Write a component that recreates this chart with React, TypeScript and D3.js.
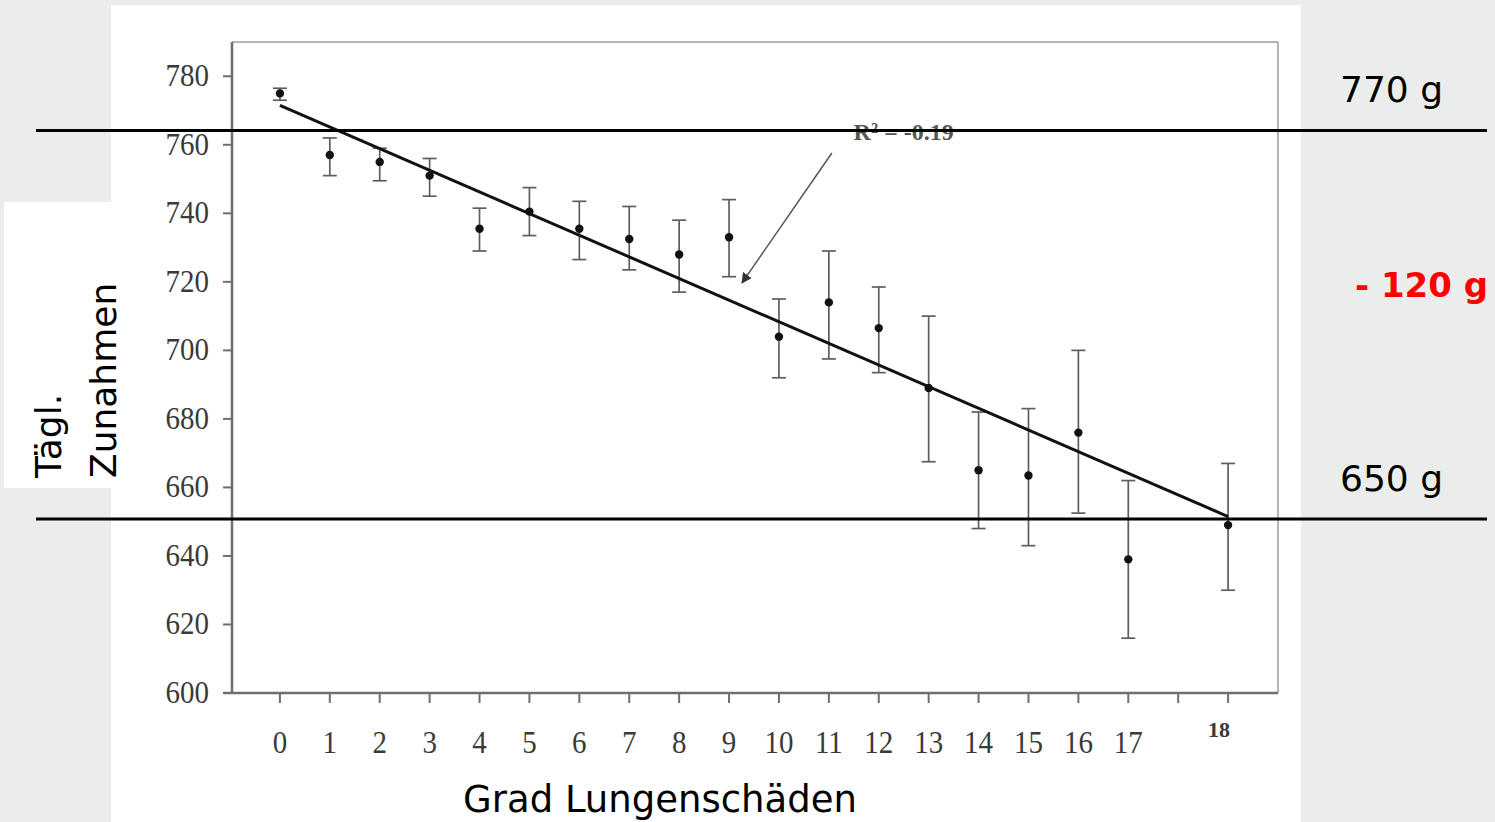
import React from 'react';
import * as d3 from 'd3';

// Grad Lungenschäden vs. tägliche Zunahmen (g)
const categories = ['0', '1', '2', '3', '4', '5', '6', '7', '8', '9', '10', '11', '12', '13', '14', '15', '16', '17', '18'];
// the "18" group sits one tick further right in the original chart
const xPositions = [0, 1, 2, 3, 4, 5, 6, 7, 8, 9, 10, 11, 12, 13, 14, 15, 16, 17, 19];
const means = [775, 757, 755, 751, 735.5, 740.5, 735.5, 732.5, 728, 733, 704, 714, 706.5, 689, 665, 663.5, 676, 639, 649];
const upper = [776.5, 762, 759, 756, 741.5, 747.5, 743.5, 742, 738, 744, 715, 729, 718.5, 710, 682, 683, 700, 662, 667];
const lower = [773, 751, 749.5, 745, 729, 733.5, 726.5, 723.5, 717, 721.5, 692, 697.5, 693.5, 667.5, 648, 643, 652.5, 616, 630];

const yTicks = [600, 620, 640, 660, 680, 700, 720, 740, 760, 780];
const xTicks = d3.range(0, 20);

// regression line end values (at grade 0 and at the "18" group)
const trendStart = 771.5;
const trendEnd = 651.5;

const refLines = [
  { value: 764.2, label: '770 g' },
  { value: 650.8, label: '650 g' },
];

const App: React.FC = () => {
  const width = 1495;
  const height = 822;
  const plot = { left: 232, right: 1278, top: 42, bottom: 693 };

  const x = d3.scaleLinear().domain([-1, 20]).range([230, 1278]);
  const y = d3.scaleLinear().domain([600, 790]).range([plot.bottom, plot.top]);

  const trendX0 = xPositions[0];
  const trendX1 = xPositions[xPositions.length - 1];

  const serif = '"Liberation Serif", "Times New Roman", serif';
  const sans = '"DejaVu Sans", Verdana, sans-serif';

  return (
    <svg width={width} height={height} style={{ position: 'absolute', left: 0, top: 0 }}>
      <defs>
        <marker id="arrow" viewBox="0 0 10 10" refX="9" refY="5" markerWidth="7" markerHeight="7" orient="auto">
          <path d="M0,0 L10,5 L0,10 z" fill="#333" />
        </marker>
      </defs>
      <rect width={width} height={height} fill="#ebeded" />
      <rect x={111} y={5} width={1190} height={817} fill="#ffffff" />
      <rect x={4} y={202} width={107} height={286} fill="#ffffff" />

      {/* frame */}
      <line x1={plot.left} x2={plot.right} y1={plot.top} y2={plot.top} stroke="#b5b5b5" strokeWidth={2} />
      <line x1={plot.right} x2={plot.right} y1={plot.top} y2={plot.bottom} stroke="#b5b5b5" strokeWidth={2} />
      <line x1={plot.left} x2={plot.left} y1={plot.top} y2={plot.bottom} stroke="#6e6e6e" strokeWidth={2.5} />
      <line x1={plot.left - 8} x2={plot.right} y1={plot.bottom} y2={plot.bottom} stroke="#6e6e6e" strokeWidth={2.5} />

      {/* y axis */}
      {yTicks.map(t => (
        <g key={t}>
          <line x1={plot.left - 9} x2={plot.left} y1={y(t)} y2={y(t)} stroke="#6e6e6e" strokeWidth={2} />
          <text transform={`translate(${plot.left - 23},${y(t) + 10}) scale(1,1.12)`} textAnchor="end" fontFamily={serif} fontSize={29} fill="#3a3a3a">{t}</text>
        </g>
      ))}

      {/* x axis */}
      {xTicks.map(t => (
        <line key={t} x1={x(t)} x2={x(t)} y1={plot.bottom} y2={plot.bottom + 10} stroke="#6e6e6e" strokeWidth={2} />
      ))}
      {categories.map((c, i) => (
        i < categories.length - 1 ? (
          <text key={c} transform={`translate(${x(xPositions[i])},753) scale(1,1.12)`} textAnchor="middle" fontFamily={serif} fontSize={29} fill="#3a3a3a">{c}</text>
        ) : (
          <text key={c} x={x(xPositions[i]) - 9} y={737} textAnchor="middle" fontFamily={serif} fontSize={22} fontWeight="bold" fill="#3a3a3a">{c}</text>
        )
      ))}

      {/* error bars */}
      {categories.map((c, i) => (
        <g key={'e' + c} stroke="#5e5e5e" strokeWidth={1.7}>
          <line x1={x(xPositions[i])} x2={x(xPositions[i])} y1={y(upper[i])} y2={y(lower[i])} />
          <line x1={x(xPositions[i]) - 7} x2={x(xPositions[i]) + 7} y1={y(upper[i])} y2={y(upper[i])} />
          <line x1={x(xPositions[i]) - 7} x2={x(xPositions[i]) + 7} y1={y(lower[i])} y2={y(lower[i])} />
        </g>
      ))}

      {/* trend line */}
      <line x1={x(trendX0)} y1={y(trendStart)} x2={x(trendX1)} y2={y(trendEnd)} stroke="#111" strokeWidth={3} />

      {/* means */}
      {categories.map((c, i) => (
        <circle key={'m' + c} cx={x(xPositions[i])} cy={y(means[i])} r={4.2} fill="#111" />
      ))}

      {/* R² annotation */}
      <line x1={x(11.06)} y1={y(757.6)} x2={x(9.26)} y2={y(719.7)} stroke="#555" strokeWidth={1.5} markerEnd="url(#arrow)" />
      <text x={x(12.5)} y={y(761.4)} textAnchor="middle" fontFamily={serif} fontSize={24} fontWeight="bold" fill="#555">R² = -0.19</text>

      {/* reference lines */}
      {refLines.map(r => (
        <g key={r.label}>
          <line x1={36} x2={1487} y1={y(r.value)} y2={y(r.value)} stroke="#000" strokeWidth={3} />
          <text x={1340} y={y(r.value) - 28} fontFamily={sans} fontSize={36} fill="#000">{r.label}</text>
        </g>
      ))}
      <text x={1355} y={297} fontFamily={sans} fontSize={34} fontWeight="bold" fill="#ff0000">- 120 g</text>

      {/* axis titles */}
      <text x={660} y={812} textAnchor="middle" fontFamily={sans} fontSize={37} fill="#000">Grad Lungenschäden</text>
      <text transform="translate(61,478) rotate(-90)" fontFamily={sans} fontSize={36} fill="#000">Tägl.</text>
      <text transform="translate(116,478) rotate(-90)" fontFamily={sans} fontSize={36} fill="#000">Zunahmen</text>
    </svg>
  );
};

export default App;
